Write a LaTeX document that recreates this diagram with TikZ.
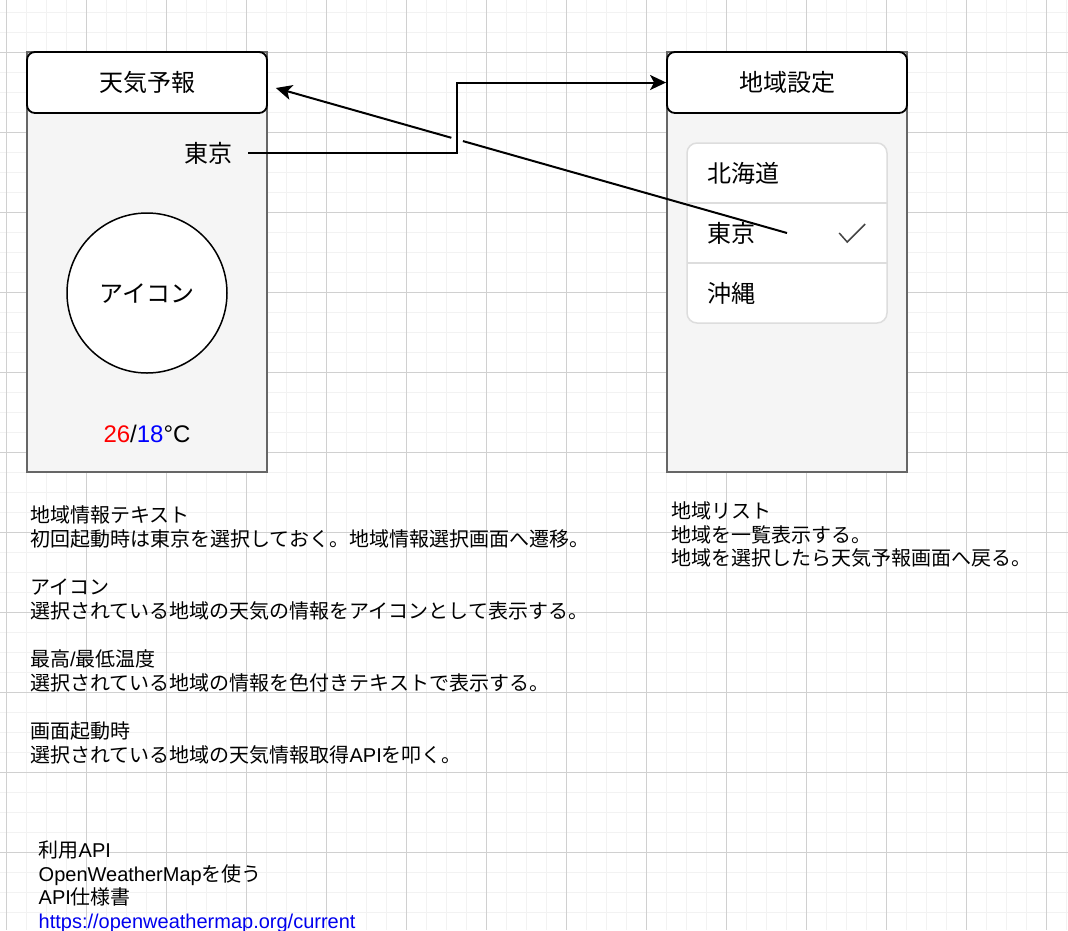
\documentclass[tikz,border=0pt]{standalone}
\usepackage{fontspec}
\setmainfont{Liberation Sans}
\newfontfamily\jafont{Noto Sans CJK JP}
\newcommand{\ja}[1]{{\jafont #1}}
\usetikzlibrary{arrows.meta,calc,intersections}
\definecolor{gridminor}{HTML}{F2F2F2}
\definecolor{gridmajor}{HTML}{D0D0D0}
\definecolor{bodyfill}{HTML}{F5F5F5}
\definecolor{bodyline}{HTML}{666666}
\definecolor{listline}{HTML}{DDDDDD}
\definecolor{checkgray}{HTML}{444444}
\definecolor{linkblue}{HTML}{0000EE}

\begin{document}
\begin{tikzpicture}[x=1pt,y=-1pt,
	screen/.style={draw=bodyline,fill=bodyfill,line width=1.5pt,minimum width=240pt,minimum height=420pt,inner sep=0pt},
	header/.style={draw,fill=white,line width=1.8pt,rounded corners=8pt,minimum width=240pt,minimum height=61pt,inner sep=0pt,text height=21.1pt,text depth=2.9pt,font=\fontsize{24}{29}\selectfont\jafont},
	big/.style={inner sep=0pt,text height=21.1pt,text depth=2.9pt,font=\fontsize{24}{29}\selectfont},
	note/.style={anchor=west,inner sep=0pt,text height=17.6pt,text depth=2.4pt,font=\fontsize{20}{24}\selectfont},
	row/.style={big,minimum width=200pt,minimum height=60pt,text width=160pt,align=left,inner xsep=20pt},
	flow/.style={line width=2pt},
	tip/.style={-{Stealth[length=16pt,width=15pt,inset=4pt]}}
	]
	\useasboundingbox (0,0) rectangle (1068,930);
	\fill[white] (0,0) rectangle (1068,930);
	
	% grid
	\foreach \i in {0,...,53}{
		\draw[gridminor,line width=1.5pt] ({6.7+20*\i},0) -- ({6.7+20*\i},930);
	}
	\foreach \j in {0,...,47}{
		\draw[gridminor,line width=1.5pt] (0,{-7.7+20*\j}) -- (1068,{-7.7+20*\j});
	}
	\foreach \i in {0,...,13}{
		\draw[gridmajor,line width=1pt] ({6.7+80*\i},0) -- ({6.7+80*\i},930);
	}
	\foreach \j in {0,...,10}{
		\draw[gridmajor,line width=1pt] (0,{52.3+80*\j}) -- (1068,{52.3+80*\j});
	}
	
	% weather screen
	\node[screen] (scrL) at (147,262) {};
	\node[header] (hdrL) at (147,82.5) {天気予報};
	\node[big,minimum width=80pt] (tokyoL) at (208,153) {\ja{東京}};
	\node[big,circle,draw,fill=white,line width=1.5pt,minimum size=160pt] (icon) at (147,293) {\ja{アイコン}};
	\node[big] (temp) at (147,433.6) {\textcolor{red}{26}/\textcolor{blue}{18}°C};
	
	% area screen
	\node[screen] (scrR) at (787,262) {};
	\node[header] (hdrR) at (787,82.5) {地域設定};
	\node[draw=listline,fill=white,line width=1.5pt,rounded corners=10pt,minimum width=200pt,minimum height=180pt,inner sep=0pt] (list) at (787,233) {};
	\node[row] (rowH) at (787,173) {\ja{北海道}};
	\node[row] (rowT) at (787,233) {\ja{東京}};
	\node[row] (rowO) at (787,293) {\ja{沖縄}};
	\draw[listline,line width=1.5pt] (rowH.south west) -- (rowH.south east) (rowT.south west) -- (rowT.south east);
	\draw[checkgray,line width=1.5pt] ($(rowT.east)+(-48,0)$) -- ++(8,9) -- ++(18,-18);
	
	% transitions
	\coordinate (jog) at ($(tokyoL.east)!0.5!(hdrR.west)$);
	\draw[flow,tip] (tokyoL.east) -- (tokyoL.east -| jog) |- (hdrR.west);
	\coordinate (backTip) at ($(hdrL.east)+(8,5.5)$);
	\path[name path=diag] (rowT.center) -- (backTip);
	\path[name path=jogline] (tokyoL.east -| jog) -- (hdrR.west -| jog);
	\path[name intersections={of=diag and jogline,by=cross}];
	\draw[flow,shorten >=6pt] (rowT.center) -- (cross);
	\draw[flow,tip,shorten <=6pt] (cross) -- (backTip);
	
	% notes
	\foreach \n/\y/\t in {1/515/{\ja{地域情報テキスト}}, 2/539/{\ja{初回起動時は東京を選択しておく。地域情報選択画面へ遷移。}},
		3/587/{\ja{アイコン}}, 4/611/{\ja{選択されている地域の天気の情報をアイコンとして表示する。}},
		5/659/{\ja{最高}/\ja{最低温度}}, 6/683/{\ja{選択されている地域の情報を色付きテキストで表示する。}},
		7/731/{\ja{画面起動時}}, 8/755/{\ja{選択されている地域の天気情報取得}API\ja{を叩く。}}}{
		\node[note] (memoL\n) at (30,\y) {\t};
	}
	\foreach \n/\y/\t in {1/511/{地域リスト}, 2/534.5/{地域を一覧表示する。}, 3/558/{地域を選択したら天気予報画面へ戻る。}}{
		\node[note] (memoR\n) at (671,\y) {\ja{\t}};
	}
	\node[note] (api1) at (38.5,850) {\ja{利用}API};
	\node[note] (api2) at (38.5,873.5) {OpenWeatherMap\ja{を使う}};
	\node[note] (api3) at (38.5,897) {API\ja{仕様書}};
	\node[note,text=linkblue] (api4) at (38.5,920.5) {https://openweathermap.org/current};
\end{tikzpicture}
\end{document}
